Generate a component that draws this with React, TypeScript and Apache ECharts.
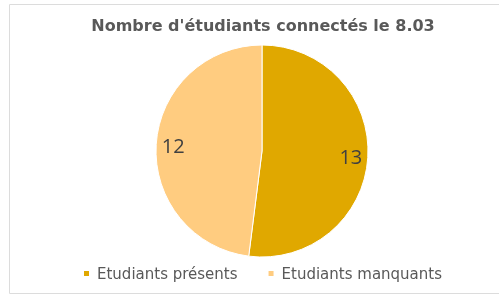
import React, { useEffect, useRef } from "react";
import * as echarts from "echarts";

const categories = ["Etudiants présents", "Etudiants manquants"];
const values = [13, 12];
const colors = ["#E0A800", "#FFCC80"];
const titleText = "Nombre d'étudiants connectés le 8.03";

export default function App() {
  const ref = useRef<HTMLDivElement>(null);
  useEffect(() => {
    const chart = echarts.init(ref.current!, null, { renderer: "svg" });
    const data = categories.map((name, i) => ({
      name,
      value: values[i],
      itemStyle: { color: colors[i] },
    }));
    chart.setOption({
      animation: false,
      title: {
        text: titleText,
        left: 258,
        textAlign: "center",
        top: 12,
        textStyle: {
          fontFamily: "DejaVu Sans",
          fontWeight: "bold",
          fontSize: 16,
          color: "#595959",
        },
      },
      legend: {
        bottom: 9,
        left: 77,
        itemWidth: 7,
        itemHeight: 7,
        itemGap: 29,
        icon: "rect",
        textStyle: {
          fontFamily: "DejaVu Sans",
          fontSize: 15,
          color: "#595959",
          padding: [0, 0, 0, 2],
        },
        data: categories,
      },
      graphic: [
        {
          type: "rect",
          shape: { x: 9.5, y: 4.5, width: 500, height: 289 },
          style: { fill: "none", stroke: "#dcdcdc", lineWidth: 1 },
          silent: true,
        },
      ],
      series: [
        {
          type: "pie",
          center: [262, 151],
          radius: [0, 106],
          startAngle: 90,
          clockwise: true,
          data,
          label: { show: false },
          labelLine: { show: false },
          itemStyle: { borderColor: "#ffffff", borderWidth: 1 },
          silent: true,
        },
        {
          type: "pie",
          center: [262, 151],
          radius: [82, 90],
          startAngle: 90,
          clockwise: true,
          data: categories.map((name, i) => ({ name, value: values[i] })),
          itemStyle: { color: "rgba(0,0,0,0)" },
          label: {
            show: true,
            position: "inside",
            formatter: "{c}",
            fontFamily: "Open Sans",
            fontSize: 20,
            color: "#404040",
          },
          labelLine: { show: false },
          legendHoverLink: false,
          silent: true,
        },
      ],
    });
    return () => chart.dispose();
  }, []);
  return (
    <div
      ref={ref}
      style={{ position: "fixed", left: 0, top: 0, width: 499, height: 295 }}
    />
  );
}
